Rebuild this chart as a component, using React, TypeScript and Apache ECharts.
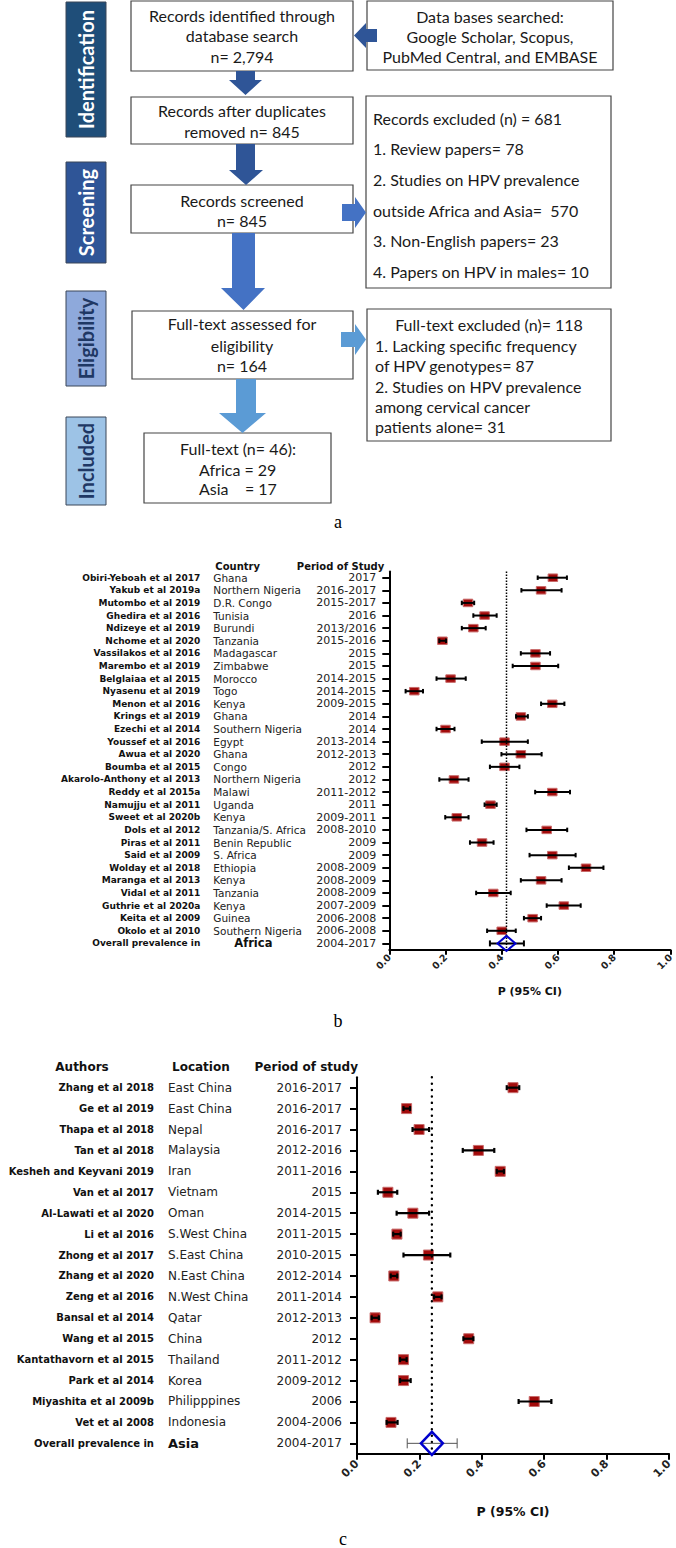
import React, { useEffect, useRef } from "react";
import * as echarts from "echarts";

// ---------------- Data: Africa (panel b) ----------------
const africaAuthors = [
  "Obiri-Yeboah et al 2017", "Yakub et al 2019a", "Mutombo et al 2019", "Ghedira et al 2016",
  "Ndizeye et al 2019", "Nchome et al 2020", "Vassilakos et al 2016", "Marembo et al 2019",
  "Belglaiaa et al 2015", "Nyasenu et al 2019", "Menon et al 2016", "Krings et al 2019",
  "Ezechi et al 2014", "Youssef et al 2016", "Awua et al 2020", "Boumba et al 2015",
  "Akarolo-Anthony et al 2013", "Reddy et al 2015a", "Namujju et al 2011", "Sweet et al 2020b",
  "Dols et al 2012", "Piras et al 2011", "Said et al 2009", "Wolday et al 2018",
  "Maranga et al 2013", "Vidal et al 2011", "Guthrie et al 2020a", "Keita et al 2009",
  "Okolo et al 2010", "Overall prevalence in",
];
const africaCountries = [
  "Ghana", "Northern Nigeria", "D.R. Congo", "Tunisia", "Burundi", "Tanzania", "Madagascar",
  "Zimbabwe", "Morocco", "Togo", "Kenya", "Ghana", "Southern Nigeria", "Egypt", "Ghana", "Congo",
  "Northern Nigeria", "Malawi", "Uganda", "Kenya", "Tanzania/S. Africa", "Benin Republic",
  "S. Africa", "Ethiopia", "Kenya", "Tanzania", "Kenya", "Guinea", "Southern Nigeria", "Africa",
];
const africaPeriods = [
  "2017", "2016-2017", "2015-2017", "2016", "2013/2016", "2015-2016", "2015", "2015",
  "2014-2015", "2014-2015", "2009-2015", "2014", "2014", "2013-2014", "2012-2013", "2012",
  "2012", "2011-2012", "2011", "2009-2011", "2008-2010", "2009", "2009", "2008-2009",
  "2008-2009", "2008-2009", "2007-2009", "2006-2008", "2006-2008", "2004-2017",
];
const africaP = [
  0.582, 0.540, 0.280, 0.339, 0.299, 0.189, 0.520, 0.520, 0.218, 0.089, 0.580, 0.468, 0.200,
  0.410, 0.468, 0.410, 0.230, 0.580, 0.360, 0.240, 0.560, 0.330, 0.580, 0.700, 0.540, 0.370,
  0.621, 0.510, 0.400,
];
const africaLo = [
  0.528, 0.470, 0.258, 0.299, 0.258, 0.178, 0.468, 0.439, 0.168, 0.058, 0.540, 0.451, 0.168,
  0.329, 0.399, 0.358, 0.178, 0.519, 0.339, 0.199, 0.488, 0.287, 0.499, 0.639, 0.468, 0.309,
  0.560, 0.479, 0.348,
];
const africaHi = [
  0.632, 0.613, 0.302, 0.382, 0.343, 0.202, 0.572, 0.601, 0.272, 0.120, 0.623, 0.493, 0.232,
  0.493, 0.542, 0.463, 0.282, 0.643, 0.382, 0.282, 0.633, 0.371, 0.663, 0.762, 0.613, 0.432,
  0.681, 0.540, 0.450,
];
const africaOverall = [0.417, 0.358, 0.479];

// ---------------- Data: Asia (panel c) ----------------
const asiaAuthors = [
  "Zhang et al 2018", "Ge et al 2019", "Thapa et al 2018", "Tan et al 2018",
  "Kesheh and Keyvani 2019", "Van et al 2017", "Al-Lawati et al 2020", "Li et al 2016",
  "Zhong et al 2017", "Zhang et al 2020", "Zeng et al 2016", "Bansal et al 2014",
  "Wang et al 2015", "Kantathavorn et al 2015", "Park et al 2014", "Miyashita et al 2009b",
  "Vet et al 2008", "Overall prevalence in",
];
const asiaLocations = [
  "East China", "East China", "Nepal", "Malaysia", "Iran", "Vietnam", "Oman", "S.West China",
  "S.East China", "N.East China", "N.West China", "Qatar", "China", "Thailand", "Korea",
  "Philipppines", "Indonesia", "Asia",
];
const asiaPeriods = [
  "2016-2017", "2016-2017", "2016-2017", "2012-2016", "2011-2016", "2015", "2014-2015",
  "2011-2015", "2010-2015", "2012-2014", "2011-2014", "2012-2013", "2012", "2011-2012",
  "2009-2012", "2006", "2004-2006", "2004-2017",
];
const asiaP = [
  0.500, 0.159, 0.199, 0.389, 0.459, 0.099, 0.179, 0.128, 0.229, 0.118, 0.259, 0.058, 0.358,
  0.149, 0.149, 0.568, 0.109,
];
const asiaLo = [
  0.480, 0.149, 0.178, 0.339, 0.448, 0.067, 0.127, 0.116, 0.149, 0.108, 0.247, 0.047, 0.341,
  0.138, 0.138, 0.518, 0.095,
];
const asiaHi = [
  0.520, 0.170, 0.231, 0.440, 0.471, 0.129, 0.231, 0.140, 0.299, 0.129, 0.271, 0.070, 0.373,
  0.159, 0.172, 0.623, 0.130,
];
const asiaOverall = [0.240, 0.161, 0.321];

const xTicks = ["0.0", "0.2", "0.4", "0.6", "0.8", "1.0"];

// ---------------- Layout ----------------
const SANS = "DejaVu Sans";
const BOXF = "Lato";
const GB = { left: 389.3, top: 571.4, width: 284, height: 378.3 };
const GC = { left: 357, top: 1077.2, width: 312, height: 376.6 };

function flowGraphics(): any[] {
  const els: any[] = [];
  const label = (x: number, y: number, w: number, h: number, fill: string, text: string, color: string) => {
    els.push({ type: "rect", shape: { x, y, width: w, height: h }, style: { fill, stroke: "#3a4658", lineWidth: 1 } });
    els.push({
      type: "text", x: x + w / 2, y: y + h / 2, rotation: Math.PI / 2,
      style: { text, fill: color, fontFamily: BOXF, fontWeight: "bold", fontSize: 20,
        align: "center", verticalAlign: "middle", textAlign: "center", textVerticalAlign: "middle" },
    });
  };
  const box = (x: number, y: number, w: number, h: number) => {
    els.push({ type: "rect", shape: { x, y, width: w, height: h }, style: { fill: "#fff", stroke: "#454545", lineWidth: 1.2 } });
  };
  const txt = (x: number, y: number, text: string, align = "center") => {
    els.push({
      type: "text", x, y,
      style: { text, fill: "#1a1a1a", fontFamily: BOXF, fontSize: 16,
        align, verticalAlign: "middle", textAlign: align, textVerticalAlign: "middle" },
    });
  };
  const poly = (pts: number[][], fill: string) => {
    els.push({ type: "polygon", shape: { points: pts }, style: { fill } });
  };

  label(66, 2, 40, 135, "#1F4E79", "Identification", "#ffffff");
  label(66, 162, 40, 101, "#2F5597", "Screening", "#ffffff");
  label(66, 291, 40, 95, "#8EA9DB", "Eligibility", "#1F3864");
  label(66, 417, 40, 88, "#9DC3E6", "Included", "#1F3864");

  box(131, 1, 222, 70);
  txt(242, 15, "Records identified through");
  txt(242, 35, "database search");
  txt(242, 56, "n= 2,794");

  box(367, 1, 246, 69);
  txt(490, 16, "Data bases searched:");
  txt(490, 36, "Google Scholar, Scopus,");
  txt(490, 56, "PubMed Central, and EMBASE");

  box(131, 97, 222, 47);
  txt(242, 110, "Records after duplicates");
  txt(242, 131, "removed n= 845");

  box(366, 96, 245, 192);
  txt(373, 118, "Records excluded (n) = 681", "left");
  txt(373, 148, "1. Review papers= 78", "left");
  txt(373, 179, "2. Studies on HPV prevalence", "left");
  txt(373, 210, "outside Africa and Asia=  570", "left");
  txt(373, 240, "3. Non-English papers= 23", "left");
  txt(373, 271, "4. Papers on HPV in males= 10", "left");

  box(131, 185, 222, 48);
  txt(242, 200, "Records screened");
  txt(242, 220, "n= 845");

  box(132, 311, 221, 68);
  txt(242, 323, "Full-text assessed for");
  txt(242, 345, "eligibility");
  txt(242, 365, "n= 164");

  box(367, 309, 244, 132);
  txt(489, 324, "Full-text excluded (n)= 118");
  txt(375, 345, "1. Lacking specific frequency", "left");
  txt(375, 365, "of HPV genotypes= 87", "left");
  txt(375, 386, "2. Studies on HPV prevalence", "left");
  txt(375, 406, "among cervical cancer", "left");
  txt(375, 426, "patients alone= 31", "left");

  box(144, 433, 187, 70);
  txt(238, 448, "Full-text (n= 46):");
  txt(199, 469, "Africa = 29", "left");
  txt(199, 488, "Asia    = 17", "left");

  // arrows
  poly([[354, 35.5], [366, 23], [366, 29], [377, 29], [377, 42], [366, 42], [366, 48]], "#2F5597");
  poly([[236, 71], [255, 71], [255, 80], [262, 80], [245.5, 95], [229, 80], [236, 80]], "#2F5597");
  poly([[236, 144], [255, 144], [255, 170], [263, 170], [246, 185], [229, 170], [236, 170]], "#2F5597");
  poly([[342, 204], [355, 204], [355, 197], [366, 212.5], [355, 228], [355, 221], [342, 221]], "#4472C4");
  poly([[232, 233], [255, 233], [255, 288], [265, 288], [243.5, 310], [221, 288], [232, 288]], "#4472C4");
  poly([[341, 332], [355, 332], [355, 324], [366, 339.5], [355, 355], [355, 347], [341, 347]], "#5B9BD5");
  poly([[236, 379], [256, 379], [256, 413], [266, 413], [242.5, 433], [219, 413], [236, 413]], "#5B9BD5");

  const panel = (x: number, y: number, t: string) =>
    els.push({ type: "text", x, y, style: { text: t, fill: "#000", fontFamily: "Liberation Serif", fontSize: 18,
      align: "center", verticalAlign: "middle", textAlign: "center", textVerticalAlign: "middle" } });
  panel(338, 522, "a");
  panel(338, 1021, "b");
  panel(343, 1539, "c");

  const head = (x: number, y: number, t: string, align: string, size: number) =>
    els.push({ type: "text", x, y, style: { text: t, fill: "#111", fontFamily: SANS, fontWeight: "bold", fontSize: size,
      align, verticalAlign: "middle", textAlign: align, textVerticalAlign: "middle" } });
  head(GB.left - 174, GB.top - 4.5, "Country", "left", 10);
  head(GB.left - 5, GB.top - 4.5, "Period of Study", "right", 10);
  head(82, GC.top - 10, "Authors", "center", 12);
  head(172, GC.top - 10, "Location", "left", 12);
  head(GC.left + 1, GC.top - 10, "Period of study", "right", 12);
  return els;
}

function ciSeries(p: number[], lo: number[], hi: number[], xi: number, yi: number, o: any) {
  return {
    type: "custom",
    xAxisIndex: xi,
    yAxisIndex: yi,
    clip: false,
    encode: { x: [1, 2, 3], y: 0 },
    data: p.map((v, i) => [i, v, lo[i], hi[i]]),
    renderItem: (params: any, api: any) => {
      const row = api.value(0);
      const c = api.coord([api.value(1), row]);
      const a = api.coord([api.value(2), row]);
      const b = api.coord([api.value(3), row]);
      const ch = o.cap / 2;
      const ls = { stroke: "#000", lineWidth: o.lw };
      return {
        type: "group",
        children: [
          { type: "rect", shape: { x: c[0] - o.w / 2, y: c[1] - o.h / 2, width: o.w, height: o.h },
            style: { fill: "#A30B0B", stroke: "#C86A6A", lineWidth: 1 } },
          { type: "line", shape: { x1: a[0], y1: a[1], x2: b[0], y2: b[1] }, style: ls },
          { type: "line", shape: { x1: a[0], y1: a[1] - ch, x2: a[0], y2: a[1] + ch }, style: ls },
          { type: "line", shape: { x1: b[0], y1: b[1] - ch, x2: b[0], y2: b[1] + ch }, style: ls },
        ],
      };
    },
  };
}

function overallSeries(ov: number[], row: number, xi: number, yi: number, o: any) {
  return {
    type: "custom",
    xAxisIndex: xi,
    yAxisIndex: yi,
    clip: false,
    encode: { x: [1, 2, 3], y: 0 },
    data: [[row, ov[0], ov[1], ov[2]]],
    renderItem: (params: any, api: any) => {
      const r = api.value(0);
      const c = api.coord([api.value(1), r]);
      const a = api.coord([api.value(2), r]);
      const b = api.coord([api.value(3), r]);
      const cs = params.coordSys;
      const ch = o.cap / 2;
      const ls = { stroke: o.ciColor, lineWidth: o.lw };
      return {
        type: "group",
        children: [
          { type: "line", shape: { x1: c[0], y1: cs.y, x2: c[0], y2: cs.y + cs.height },
            style: { stroke: "#000", lineWidth: o.dotW, lineDash: o.dot, lineCap: o.dotCap } },
          { type: "line", shape: { x1: a[0], y1: a[1], x2: b[0], y2: b[1] }, style: ls },
          { type: "line", shape: { x1: a[0], y1: a[1] - ch, x2: a[0], y2: a[1] + ch }, style: ls },
          { type: "line", shape: { x1: b[0], y1: b[1] - ch, x2: b[0], y2: b[1] + ch }, style: ls },
          { type: "polygon",
            shape: { points: [[c[0] - o.dw / 2, c[1]], [c[0], c[1] - o.dh / 2], [c[0] + o.dw / 2, c[1]], [c[0], c[1] + o.dh / 2]] },
            style: { fill: "none", stroke: "#0000CC", lineWidth: o.dlw } },
        ],
      };
    },
  };
}

function xAxisCfg(gi: number, o: any) {
  return {
    type: "value", gridIndex: gi, min: 0, max: 1, interval: 0.2,
    axisLine: { show: true, onZero: false, lineStyle: { color: "#000", width: 2 } },
    axisTick: { show: true, length: o.tick, lineStyle: { color: "#000", width: 2 } },
    splitLine: { show: false },
    axisLabel: {
      rotate: 45, margin: o.margin, color: "#222", fontFamily: SANS, fontWeight: "bold", fontSize: o.fs,
      formatter: (v: number) => xTicks[Math.round(v / 0.2)],
    },
    name: "P (95% CI)", nameLocation: "middle", nameGap: o.nameGap,
    nameTextStyle: { color: "#111", fontFamily: SANS, fontWeight: "bold", fontSize: o.nameFs },
  };
}

function yAxesCfg(gi: number, cats: string[], col2: string[], col3: string[], o: any) {
  const n = cats.length;
  const base = {
    type: "category", gridIndex: gi, position: "left", inverse: true, data: cats,
    splitLine: { show: false },
  };
  return [
    {
      ...base,
      axisLine: { show: true, lineStyle: { color: "#000", width: 2 } },
      axisTick: { show: true, alignWithLabel: true, interval: 0, length: 7, lineStyle: { color: "#000", width: 2 } },
      axisLabel: { interval: 0, margin: o.m1, align: "right", color: "#111", fontFamily: SANS, fontWeight: "bold", fontSize: o.fs1 },
    },
    {
      ...base,
      axisLine: { show: false }, axisTick: { show: false },
      axisLabel: {
        interval: 0, margin: o.m2, align: "left", color: "#222", fontFamily: SANS, fontSize: o.fs2,
        formatter: (v: string, i: number) => (i === n - 1 ? "{o|" + col2[i] + "}" : col2[i]),
        rich: { o: { fontFamily: SANS, fontWeight: "bold", fontSize: o.fs2 + 1, color: "#111", padding: [0, 0, 0, o.ovPad] } },
      },
    },
    {
      ...base,
      axisLine: { show: false }, axisTick: { show: false },
      axisLabel: {
        interval: 0, margin: o.m3, align: "right", color: "#222", fontFamily: SANS, fontSize: o.fs3,
        formatter: (v: string, i: number) => col3[i],
      },
    },
  ];
}

export default function App() {
  const ref = useRef<HTMLDivElement>(null);
  useEffect(() => {
    if (!ref.current) return;
    const chart = echarts.init(ref.current, null, { renderer: "svg" });
    const option: any = {
      animation: false,
      backgroundColor: "#fff",
      grid: [
        { left: GB.left, top: GB.top, width: GB.width, height: GB.height },
        { left: GC.left, top: GC.top, width: GC.width, height: GC.height },
      ],
      xAxis: [
        xAxisCfg(0, { tick: 5, margin: 6, fs: 9.5, nameGap: 36, nameFs: 11 }),
        xAxisCfg(1, { tick: 6, margin: 8, fs: 11, nameGap: 51, nameFs: 12.5 }),
      ],
      yAxis: [
        ...yAxesCfg(0, africaAuthors, africaCountries, africaPeriods,
          { m1: 189, m2: 176, m3: 13, fs1: 9, fs2: 10.5, fs3: 11, ovPad: 21 }),
        ...yAxesCfg(1, asiaAuthors, asiaLocations, asiaPeriods,
          { m1: 203, m2: 189, m3: 15, fs1: 10, fs2: 12, fs3: 12, ovPad: 0 }),
      ],
      graphic: { elements: flowGraphics() },
      series: [
        ciSeries(africaP, africaLo, africaHi, 0, 0, { w: 9.5, h: 7.5, cap: 4.5, lw: 2 }),
        overallSeries(africaOverall, africaAuthors.length - 1, 0, 0,
          { cap: 6, lw: 2, ciColor: "#000", dw: 18, dh: 15, dlw: 2, dotW: 1.5, dot: [1.5, 1.5], dotCap: "butt" }),
        ciSeries(asiaP, asiaLo, asiaHi, 1, 3, { w: 10, h: 10, cap: 5, lw: 2.2 }),
        overallSeries(asiaOverall, asiaAuthors.length - 1, 1, 3,
          { cap: 10, lw: 1, ciColor: "#555", dw: 22, dh: 23, dlw: 2.5, dotW: 2.4, dot: [0.1, 6.3], dotCap: "round" }),
      ],
    };
    chart.setOption(option);
    return () => chart.dispose();
  }, []);
  return (
    <div
      ref={ref}
      style={{ position: "absolute", left: 0, top: 0, width: 676, height: 1548, background: "#fff" }}
    />
  );
}
